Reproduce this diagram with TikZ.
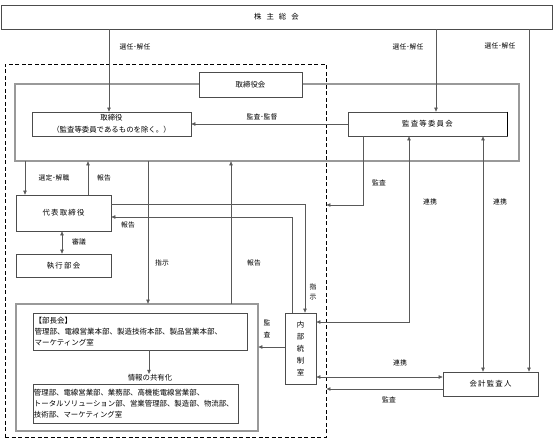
\documentclass[tikz,border=0pt]{standalone}
\usepackage{fontspec}
\setmainfont{Noto Sans CJK JP}
\usetikzlibrary{arrows.meta}

\begin{document}
\begin{tikzpicture}[x=1pt,y=-1pt,
  box/.style={draw=black!70,fill=white,line width=0.7pt,inner sep=1pt,font=\fontsize{7.4}{12}\selectfont},
  frame/.style={draw=black!70,double=black!40,double distance=1.2pt,line width=0.7pt,inner sep=0pt},
  link/.style={draw=black!65,line width=0.6pt},
  arr/.style={link,-{Triangle[length=4pt,width=3.4pt]}},
  both/.style={link,{Triangle[length=4pt,width=3.4pt]}-{Triangle[length=4pt,width=3.4pt]}},
  lbl/.style={inner sep=0pt,font=\fontsize{6.8}{10}\selectfont}]
\useasboundingbox (0,0) rectangle (560,444);

% frames
\node[frame,minimum width=504pt,minimum height=77pt] (board) at (267,122.5) {};
\node[frame,minimum width=242pt,minimum height=127pt] (dept) at (137,367.5) {};
\node[draw=black,line width=0.9pt,dash pattern=on 4pt off 2.5pt,inner sep=0pt,minimum width=321pt,minimum height=373pt] (group) at (165.5,250.5) {};

% boxes
\node[box,minimum width=551pt,minimum height=24pt] (soukai) at (276.5,17) {株\hspace{5pt}主\hspace{5pt}総\hspace{5pt}会};
\node[box,minimum width=103pt,minimum height=25pt] (torikai) at (250.5,84.5) {取締役会};
\node[box,minimum width=159pt,minimum height=24pt,align=center] (tori) at (111.5,124) {取締役\\（監査等委員であるものを除く。）};
\node[box,minimum width=159pt,minimum height=24pt] (kansa) at (427.5,124) {監\,査\,等\,委\,員\,会};
\draw[line width=1.3pt] (kansa.north east) -- (kansa.south east);
\node[box,minimum width=95pt,minimum height=36pt] (daihyo) at (63.5,213) {代\,表\,取\,締\,役};
\node[box,minimum width=95pt,minimum height=23pt] (shikko) at (63.5,265.5) {執\,行\,部\,会};
\node[box,minimum width=214pt,minimum height=37pt,text width=211pt,align=left,font=\fontsize{7.5}{11}\selectfont] (bucho) at (140,331.5) {【部長会】\\管理部、電線営業本部、製造技術本部、製品営業本部、\\マーケティング室};
\node[box,minimum width=205pt,minimum height=39pt,text width=203pt,align=left,font=\fontsize{7.4}{11}\selectfont] (share) at (135.5,403.5) {管理部、電線営業部、業務部、高機能電線営業部、\\トータルソリューション部、営業管理部、製造部、物流部、\\技術部、マーケティング室};
\node[box,minimum width=31pt,minimum height=71pt,align=center] (naibu) at (300.5,348.5) {内\\部\\統\\制\\室};
\node[box,minimum width=95pt,minimum height=24pt] (kaikei) at (490.5,384) {会\,計\,監\,査\,人};
\node[inner sep=0.5pt,font=\fontsize{7.4}{10}\selectfont] (joho) at (150,378) {情報の共有化};

% connectors
\draw[arr] (soukai.south -| 109,0) -- (tori.north -| 109,0);
\draw[arr] (soukai.south -| 436,0) -- (kansa.north -| 436,0);
\draw[arr] (soukai.south -| 529,0) -- (kaikei.north -| 529,0);
\draw[arr] (kansa.west) -- (tori.east);
\draw[arr] (kansa.south -| 363,0) |- (group.east |- 0,205);
\draw[both] (kansa.south -| 409,0) |- (naibu.east |- 0,322);
\draw[both] (kansa.south -| 483,0) -- (kaikei.north -| 483,0);
\draw[arr] (board.south -| 25,0) -- (daihyo.north -| 25,0);
\draw[arr] (daihyo.north -| 88,0) -- (board.south -| 88,0);
\draw[arr] (board.south -| 148,0) -- (dept.north -| 148,0);
\draw[arr] (dept.north -| 231,0) -- (board.south -| 231,0);
\draw[arr] (daihyo.east |- 0,204) -| (naibu.north -| 305,0);
\draw[arr] (naibu.north -| 292,0) |- (daihyo.east |- 0,217);
\draw[both] (daihyo.south -| 62,0) -- (shikko.north -| 62,0);
\draw[arr] (naibu.west |- 0,347) -- (dept.east |- 0,347);
\draw[arr] (bucho.south -| 149,0) -- (joho.north -| 149,0);
\draw[both] (naibu.east |- 0,377) -- (kaikei.west |- 0,377);
\draw[arr] (kaikei.west |- 0,389) -- (group.east |- 0,389);

% labels
\node[lbl] (sennin1) at (135,47) {選任･解任};
\node[lbl] (sennin2) at (408,47) {選任･解任};
\node[lbl] (sennin3) at (500,46) {選任･解任};
\node[lbl] (kantoku) at (262,117) {監査･監督};
\node[lbl] (kansa1) at (379,183) {監査};
\node[lbl] (renkei1) at (430,202) {連携};
\node[lbl] (renkei2) at (500,202) {連携};
\node[lbl] (sentei) at (54,178) {選定･解職};
\node[lbl] (houkoku1) at (104,178) {報告};
\node[lbl] (houkoku2) at (128,225) {報告};
\node[lbl] (shingi) at (79,242) {審議};
\node[lbl] (shiji1) at (162,263) {指示};
\node[lbl] (houkoku3) at (254,263) {報告};
\node[lbl,align=center,font=\fontsize{6.8}{10}\selectfont] (shiji2) at (313,292) {指\\示};
\node[lbl,align=center,font=\fontsize{6.8}{12}\selectfont] (kansa2) at (267,329) {監\\査};
\node[lbl] (renkei3) at (400,363) {連携};
\node[lbl] (kansa3) at (389,400) {監査};

\end{tikzpicture}
\end{document}
